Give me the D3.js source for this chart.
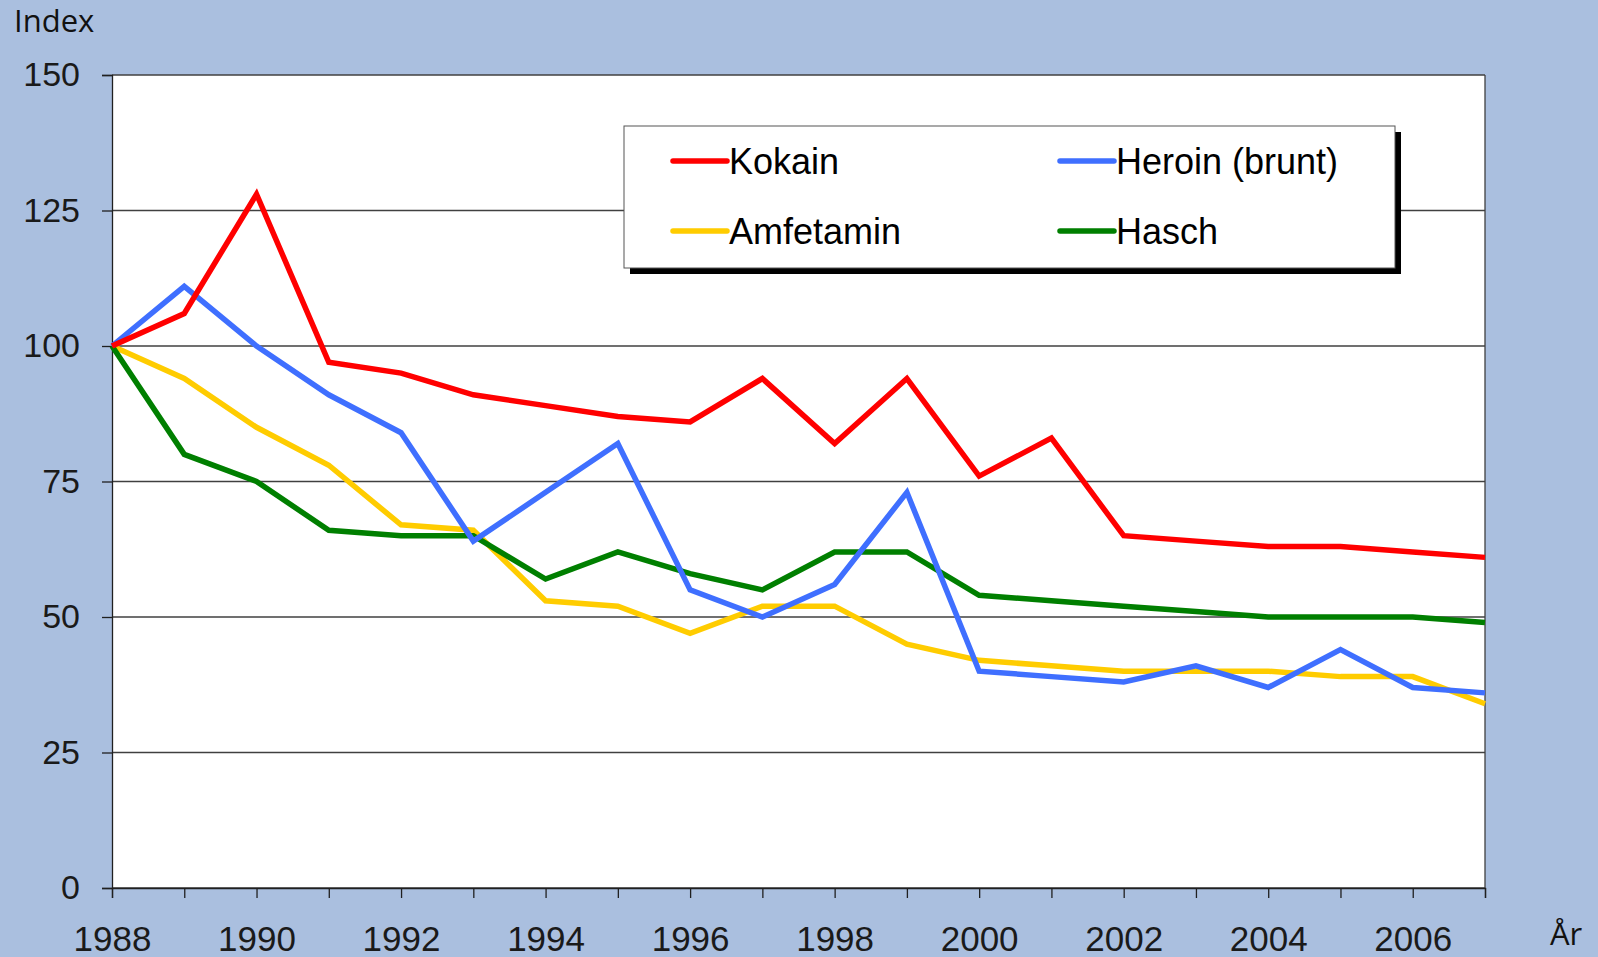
<!DOCTYPE html>
<html>
<head>
<meta charset="utf-8">
<script src="https://cdn.jsdelivr.net/npm/d3@7"></script>
<style>
    body { margin: 0; background: #aabfdf; }
    svg { display: block; }
</style>
</head>
<body>
<div id="chart"></div>
<script>
// index values, 1988 = 100
const years = d3.range(1988, 2008);
const kokain    = [100, 106, 128, 97, 95, 91, 89, 87, 86, 94, 82, 94, 76, 83, 65, 64, 63, 63, 62, 61];
const heroin    = [100, 111, 100, 91, 84, 64, 73, 82, 55, 50, 56, 73, 40, 39, 38, 41, 37, 44, 37, 36];
const amfetamin = [100, 94, 85, 78, 67, 66, 53, 52, 47, 52, 52, 45, 42, 41, 40, 40, 40, 39, 39, 34];
const hasch     = [100, 80, 75, 66, 65, 65, 57, 62, 58, 55, 62, 62, 54, 53, 52, 51, 50, 50, 50, 49];
const yTicks = [0, 25, 50, 75, 100, 125, 150];
const xTickLabels = [1988, 1990, 1992, 1994, 1996, 1998, 2000, 2002, 2004, 2006];

const series = [
    {name: 'Kokain', values: kokain, color: '#ff0000'},
    {name: 'Heroin (brunt)', values: heroin, color: '#3f6fff'},
    {name: 'Amfetamin', values: amfetamin, color: '#ffcc00'},
    {name: 'Hasch', values: hasch, color: '#007f00'}
];
// drawing order (back to front)
const drawOrder = ['Amfetamin', 'Hasch', 'Heroin (brunt)', 'Kokain'];

const width = 1598, height = 957;
const margin = {top: 75, left: 112, right: 113, bottom: 69};

const svg = d3.select('#chart').append('svg')
    .attr('width', width)
    .attr('height', height);

svg.append('rect')
    .attr('width', width).attr('height', height)
    .attr('fill', '#aabfdf');

const x = d3.scaleLinear()
    .domain([1988, 2007])
    .range([margin.left, width - margin.right]);
const y = d3.scaleLinear()
    .domain([0, 150])
    .range([height - margin.bottom, margin.top]);

// plot area
svg.append('rect')
    .attr('x', x(1988)).attr('y', y(150))
    .attr('width', x(2007) - x(1988))
    .attr('height', y(0) - y(150))
    .attr('fill', '#ffffff');

// grid lines
svg.append('g')
    .selectAll('line')
    .data(yTicks)
    .join('line')
    .attr('x1', x(1988)).attr('x2', x(2007))
    .attr('y1', d => y(d)).attr('y2', d => y(d))
    .attr('stroke', '#404040')
    .attr('stroke-width', 1.3);

// right border
svg.append('line')
    .attr('x1', x(2007)).attr('x2', x(2007))
    .attr('y1', y(150)).attr('y2', y(0))
    .attr('stroke', '#404040')
    .attr('stroke-width', 1.3);

const font = '"Liberation Sans", Arial, sans-serif';

// y axis
const yAxis = svg.append('g')
    .attr('transform', `translate(${x(1988)},0)`)
    .call(d3.axisLeft(y).tickValues(yTicks).tickSize(10).tickPadding(22));
yAxis.select('.domain').attr('stroke', '#202020').attr('stroke-width', 1.3);
yAxis.selectAll('.tick line').attr('stroke', '#202020').attr('stroke-width', 1.3);
yAxis.selectAll('text')
    .attr('font-family', font)
    .attr('font-size', 34)
    .attr('fill', '#1a1a1a');

// x axis
const xAxis = svg.append('g')
    .attr('transform', `translate(0,${y(0)})`)
    .call(d3.axisBottom(x).tickValues(years).tickSize(10).tickPadding(28)
        .tickFormat(d => xTickLabels.includes(d) ? d : ''));
xAxis.select('.domain').attr('stroke', '#202020').attr('stroke-width', 1.3);
xAxis.selectAll('.tick line').attr('stroke', '#202020').attr('stroke-width', 1.3);
xAxis.selectAll('text')
    .attr('font-family', font)
    .attr('font-size', 35)
    .attr('fill', '#1a1a1a');

// axis titles
svg.append('text')
    .attr('x', 14).attr('y', 32)
    .attr('font-family', '"Open Sans", sans-serif')
    .attr('font-size', 31)
    .attr('fill', '#111')
    .text('Index');
svg.append('text')
    .attr('x', 1550).attr('y', 945)
    .attr('font-family', '"Open Sans", sans-serif')
    .attr('font-size', 31)
    .attr('fill', '#111')
    .text('År');

// lines
const line = d3.line()
    .x((d, i) => x(years[i]))
    .y(d => y(d));

svg.append('g')
    .selectAll('path')
    .data(drawOrder.map(n => series.find(s => s.name === n)))
    .join('path')
    .attr('d', d => line(d.values))
    .attr('fill', 'none')
    .attr('stroke', d => d.color)
    .attr('stroke-width', 5.5)
    .attr('stroke-linejoin', 'miter');

// legend
const legend = svg.append('g').attr('transform', 'translate(624,126)');
const legW = 771, legH = 142;
legend.append('rect')
    .attr('x', 6).attr('y', 6)
    .attr('width', legW).attr('height', legH)
    .attr('fill', '#000');
legend.append('rect')
    .attr('width', legW).attr('height', legH)
    .attr('fill', '#fff')
    .attr('stroke', '#555')
    .attr('stroke-width', 1);

const legPos = [[49, 35], [436, 35], [49, 105], [436, 105]];
const items = legend.selectAll('.item')
    .data(series)
    .join('g')
    .attr('class', 'item')
    .attr('transform', (d, i) => `translate(${legPos[i][0]},${legPos[i][1]})`);
items.append('line')
    .attr('x1', 0).attr('x2', 54)
    .attr('stroke', d => d.color)
    .attr('stroke-width', 5.5)
    .attr('stroke-linecap', 'round');
items.append('text')
    .attr('x', 56).attr('y', 13)
    .attr('font-family', font)
    .attr('font-size', 36)
    .attr('fill', '#000')
    .text(d => d.name);
</script>
</body>
</html>
